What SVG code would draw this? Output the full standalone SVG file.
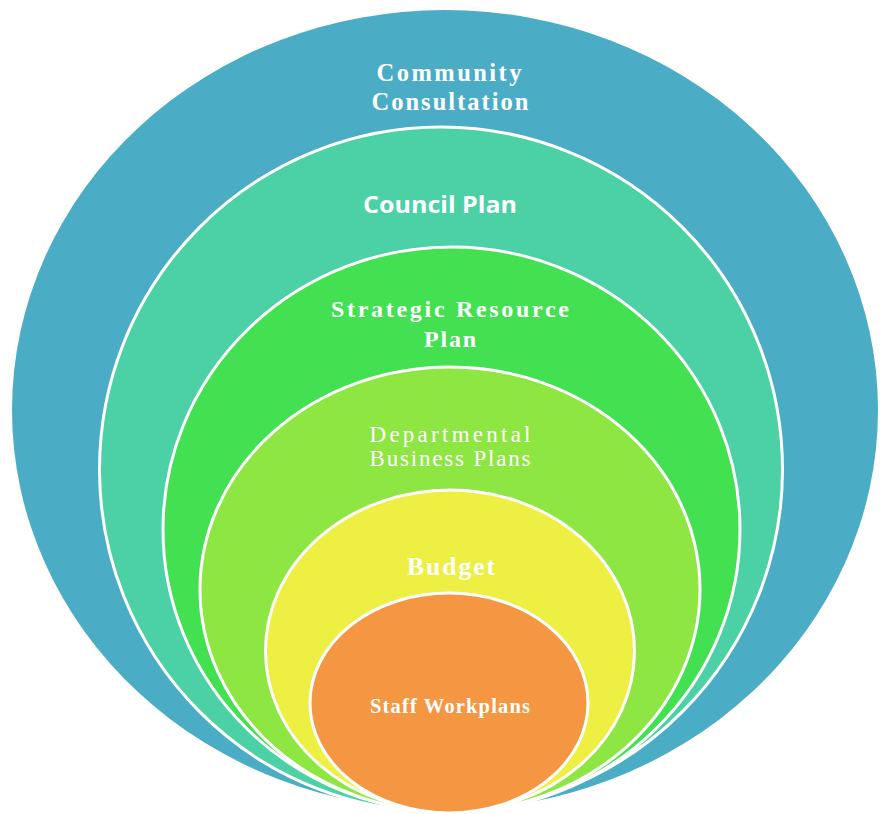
<svg xmlns="http://www.w3.org/2000/svg" width="880" height="814" viewBox="0 0 880 814">
<style>
.ring{stroke:#FFFFFF;stroke-width:3}
.serif{font-family:"Liberation Serif","Times New Roman",serif;fill:#FFFFFF;text-anchor:middle}
.b{font-weight:bold}
.sans{font-family:"Open Sans","Liberation Sans",sans-serif;font-weight:700;fill:#FFFFFF;text-anchor:middle}
</style>
<rect width="880" height="814" fill="#FFFFFF"/>
<g id="community-consultation">
<ellipse cx="445" cy="410" rx="433" ry="400" fill="#4BACC6"/>
<text class="serif b" x="449" y="81" font-size="24.5" textLength="145" lengthAdjust="spacing">Community</text>
<text class="serif b" x="450" y="110" font-size="24.5" textLength="157" lengthAdjust="spacing">Consultation</text>
</g>
<g id="council-plan">
<ellipse class="ring" cx="441" cy="469.5" rx="341.5" ry="342.5" fill="#4BD1A5"/>
<text class="sans" x="440" y="213" font-size="23.5" textLength="154" lengthAdjust="spacingAndGlyphs">Council Plan</text>
</g>
<g id="strategic-resource-plan">
<ellipse class="ring" cx="451.5" cy="529.5" rx="288.5" ry="282.5" fill="#43E052"/>
<text class="serif b" x="450" y="317" font-size="24" textLength="238" lengthAdjust="spacing">Strategic Resource</text>
<text class="serif b" x="450" y="347" font-size="24" textLength="52" lengthAdjust="spacing">Plan</text>
</g>
<g id="departmental-business-plans">
<ellipse class="ring" cx="450" cy="589.5" rx="250" ry="222.5" fill="#8EE642"/>
<text class="serif" x="450" y="442" font-size="23" textLength="161" lengthAdjust="spacing">Departmental</text>
<text class="serif" x="450" y="466" font-size="23" textLength="161" lengthAdjust="spacing">Business Plans</text>
</g>
<g id="budget">
<ellipse class="ring" cx="450" cy="651" rx="184.5" ry="161" fill="#EDEF42"/>
<text class="serif b" x="451" y="575" font-size="25.5" textLength="88" lengthAdjust="spacing">Budget</text>
</g>
<g id="staff-workplans">
<ellipse class="ring" cx="449" cy="703" rx="139" ry="110" fill="#F59742"/>
<text class="serif b" x="450" y="713" font-size="20.5" textLength="160" lengthAdjust="spacing">Staff Workplans</text>
</g>
</svg>
